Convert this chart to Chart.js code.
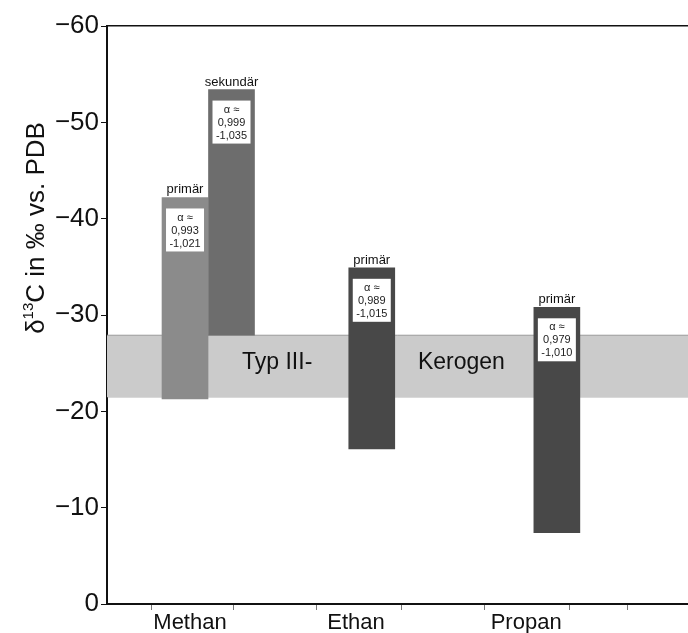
<!DOCTYPE html>
<html>
<head>
<meta charset="utf-8">
<script src="https://cdn.jsdelivr.net/npm/chart.js@4.4.1/dist/chart.umd.min.js"></script>
<style>
  body { margin: 0; background: #fff; }
</style>
</head>
<body>
<canvas id="chart" width="688" height="633"></canvas>
<script>
// gases on the x axis and where their names sit
var gases = ['Methan', 'Ethan', 'Propan'];
var gasX = [1, 3, 5.05];
var xTickMarks = [0.54, 1.52, 2.53, 3.55, 4.55, 5.57, 6.27];

// delta 13C ranges of the gas bars
var phases = ['primär', 'sekundär', 'primär', 'primär'];
var barX = [0.94, 1.5, 3.19, 5.42];
var barLow = [-21.3, -27.9, -16.1, -7.4];
var barHigh = [-42.2, -53.4, -34.9, -30.8];
var alphaLow = ['0,993', '0,999', '0,989', '0,979'];
var alphaHigh = ['-1,021', '-1,035', '-1,015', '-1,010'];
var barColors = ['#8b8b8b', '#6d6d6d', '#484848', '#484848'];

// Typ III kerogen band
var bandRange = [-21.5, -27.9];
var bandText = ['Typ III-', 'Kerogen'];
var bandTextX = [2.05, 4.27];
var bandTextY = -25.1;

var yTicks = [-60, -50, -40, -30, -20, -10, 0];

var FONT = '"Liberation Sans", Arial, sans-serif';

function minus(v) {
  return v < 0 ? '\u2212' + Math.abs(v) : String(v);
}

var barData = barX.map(function(x, i) {
  return { x: x, y: [barLow[i], barHigh[i]] };
});

// annotations: phase names, alpha boxes, band text, axis title
var notes = {
  id: 'notes',
  afterDatasetsDraw: function(chart) {
    var ctx = chart.ctx;
    var xs = chart.scales.x, ys = chart.scales.y;
    var meta = chart.getDatasetMeta(2);
    ctx.save();
    ctx.textAlign = 'center';

    // band text
    ctx.fillStyle = '#111';
    ctx.font = '23px ' + FONT;
    ctx.textBaseline = 'middle';
    bandText.forEach(function(t, i) {
      ctx.fillText(t, xs.getPixelForValue(bandTextX[i]), ys.getPixelForValue(bandTextY));
    });

    meta.data.forEach(function(el, i) {
      var top = Math.min(el.y, el.base);
      var cx = el.x;
      ctx.fillStyle = '#111';
      ctx.font = '13px ' + FONT;
      ctx.textBaseline = 'alphabetic';
      ctx.fillText(phases[i], cx, top - 4);

      var bw = 38, bh = 43, by = top + 11;
      ctx.fillStyle = '#fff';
      ctx.fillRect(cx - bw / 2, by, bw, bh);
      ctx.fillStyle = '#222';
      ctx.font = '11px ' + FONT;
      ctx.textBaseline = 'middle';
      ctx.fillText('\u03b1 \u2248', cx, by + 9);
      ctx.fillText(alphaLow[i], cx, by + 22);
      ctx.fillText(alphaHigh[i], cx, by + 35);
    });
    ctx.restore();
  },
  afterDraw: function(chart) {
    var ctx = chart.ctx;
    ctx.save();
    ctx.translate(44, 228);
    ctx.rotate(-Math.PI / 2);
    ctx.fillStyle = '#111';
    ctx.textBaseline = 'alphabetic';
    var big = '26px ' + FONT, small = '15px ' + FONT;
    var parts = [['\u03b4', big, 0], ['13', small, -11], ['C in \u2030 vs. PDB', big, 0]];
    var w = 0;
    parts.forEach(function(p) { ctx.font = p[1]; w += ctx.measureText(p[0]).width; });
    var x = -w / 2;
    ctx.textAlign = 'left';
    parts.forEach(function(p) {
      ctx.font = p[1];
      ctx.fillText(p[0], x, p[2]);
      x += ctx.measureText(p[0]).width;
    });
    ctx.restore();
  }
};

new Chart(document.getElementById('chart'), {
  type: 'bar',
  data: {
    datasets: [
      {
        type: 'line',
        data: [{ x: 0, y: bandRange[0] }, { x: 7, y: bandRange[0] }],
        borderColor: '#9a9a9a',
        borderWidth: 1,
        pointRadius: 0,
        fill: false,
        order: 3
      },
      {
        type: 'line',
        data: [{ x: 0, y: bandRange[1] }, { x: 7, y: bandRange[1] }],
        borderColor: '#9a9a9a',
        borderWidth: 1,
        pointRadius: 0,
        backgroundColor: '#cbcbcb',
        fill: '-1',
        order: 2
      },
      {
        data: barData,
        backgroundColor: barColors,
        borderWidth: 0,
        barThickness: 46,
        order: 1
      }
    ]
  },
  options: {
    responsive: false,
    animation: false,
    layout: { padding: { top: 26, right: 0, bottom: 0, left: 0 } },
    plugins: {
      legend: { display: false },
      tooltip: { enabled: false }
    },
    scales: {
      x: {
        type: 'linear',
        offset: false,
        min: 0,
        max: 7,
        afterFit: function(s) { s.height = 29; },
        afterBuildTicks: function(s) {
          var t = xTickMarks.map(function(v) { return { value: v }; });
          gasX.forEach(function(v) { t.push({ value: v }); });
          t.sort(function(a, b) { return a.value - b.value; });
          s.ticks = t;
        },
        grid: {
          drawOnChartArea: false,
          offset: false,
          tickLength: 6,
          tickColor: function(c) {
            return gasX.indexOf(c.tick && c.tick.value) >= 0 ? 'rgba(0,0,0,0)' : '#777';
          }
        },
        border: { color: '#111', width: 2 },
        ticks: {
          autoSkip: false,
          maxRotation: 0,
          padding: 0,
          color: '#111',
          font: { family: FONT, size: 22 },
          callback: function(v) {
            var i = gasX.indexOf(v);
            return i >= 0 ? gases[i] : '';
          }
        }
      },
      xTop: {
        type: 'linear',
        position: 'top',
        offset: false,
        min: 0,
        max: 7,
        afterFit: function(s) { s.height = 0; },
        grid: { display: false, drawTicks: false },
        border: { color: '#111', width: 1.5 },
        ticks: { display: false }
      },
      y: {
        reverse: true,
        min: -60,
        max: 0,
        afterFit: function(s) { s.width = 107; },
        afterBuildTicks: function(s) {
          s.ticks = yTicks.map(function(v) { return { value: v }; });
        },
        grid: { drawOnChartArea: false, tickLength: 6, tickColor: '#111' },
        border: { color: '#111', width: 2 },
        ticks: {
          padding: 2,
          color: '#111',
          font: { family: FONT, size: 26 },
          callback: function(v) { return minus(v); }
        }
      }
    }
  },
  plugins: [notes]
});
</script>
</body>
</html>
